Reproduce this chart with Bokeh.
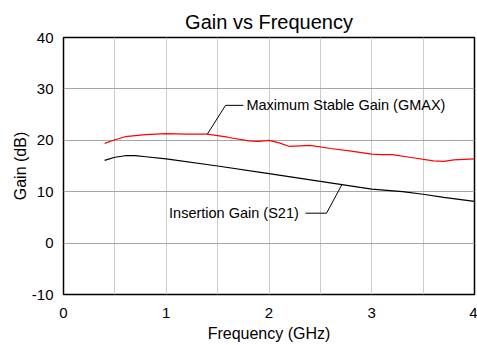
from bokeh.plotting import figure
from bokeh.models import FixedTicker, Range1d, Label
from bokeh.embed import file_html
from bokeh.resources import INLINE

# Data
freq_gmax = [0.4, 0.5, 0.6, 0.8, 1.0, 1.2, 1.4, 1.6, 1.8, 1.9, 2.0, 2.1, 2.2, 2.4,
             2.6, 2.8, 3.0, 3.1, 3.2, 3.4, 3.6, 3.7, 3.8, 4.0]
gmax = [19.4, 20.1, 20.7, 21.1, 21.3, 21.2, 21.2, 20.6, 19.9, 19.8, 20.0, 19.5, 18.8, 19.0,
        18.4, 17.9, 17.3, 17.2, 17.2, 16.6, 16.0, 15.9, 16.2, 16.4]
freq_s21 = [0.4, 0.5, 0.6, 0.7, 0.8, 1.0, 1.5, 2.0, 2.5, 3.0, 3.3, 3.5, 3.7, 3.85, 4.0]
s21 = [16.1, 16.7, 17.0, 17.0, 16.8, 16.4, 15.0, 13.5, 12.0, 10.5, 10.0, 9.5, 8.9, 8.5, 8.1]

x_ticks = [0, 1, 2, 3, 4]
y_ticks = [-10, 0, 10, 20, 30, 40]
y_tick_labels = ["-10", "0", "10", "20", "30", "40"]
x_grid_ticks = [0.5, 1, 1.5, 2, 2.5, 3, 3.5]
y_grid_ticks = [0, 10, 20, 30]

gmax_label = "Maximum Stable Gain (GMAX)"
s21_label = "Insertion Gain (S21)"
gmax_leader_x = [1.40, 1.577, 1.75]
gmax_leader_y = [21.2, 26.8, 26.8]
s21_leader_x = [2.71, 2.56, 2.355]
s21_leader_y = [11.4, 5.82, 5.82]

FONT = "Liberation Sans"

p = figure(width=477, height=345, output_backend="svg", toolbar_location=None,
           x_range=Range1d(0, 4), y_range=Range1d(-10, 40),
           min_border_left=63, min_border_right=3, min_border_top=37, min_border_bottom=51)

p.title.text = "Gain vs Frequency"
p.title.align = "center"
p.title.text_font = FONT
p.title.text_font_size = "20px"
p.title.text_font_style = "normal"
p.title.text_color = "black"
p.title.standoff = 10

p.background_fill_color = "white"
p.border_fill_color = "white"
p.outline_line_color = "black"
p.outline_line_width = 1.5

for ax in (p.xaxis[0], p.yaxis[0]):
    ax.major_tick_line_color = None
    ax.minor_tick_line_color = None
    ax.major_tick_out = 0
    ax.major_tick_in = 0
    ax.minor_tick_out = 0
    ax.minor_tick_in = 0
    ax.axis_line_color = None
    ax.major_label_text_font = FONT
    ax.major_label_text_font_size = "15px"
    ax.major_label_text_color = "black"
    ax.axis_label_text_font = FONT
    ax.axis_label_text_font_size = "16px"
    ax.axis_label_text_font_style = "normal"
    ax.axis_label_text_color = "black"

p.xaxis.ticker = FixedTicker(ticks=x_ticks)
p.yaxis.ticker = FixedTicker(ticks=y_ticks)
p.yaxis.major_label_overrides = {t: s for t, s in zip(y_ticks, y_tick_labels)}
p.xaxis.axis_label = "Frequency (GHz)"
p.yaxis.axis_label = "Gain (dB)"
p.xaxis.major_label_standoff = 13
p.yaxis.major_label_standoff = 10
p.xaxis.axis_label_standoff = 4
p.yaxis.axis_label_standoff = 0

p.xgrid.ticker = FixedTicker(ticks=x_grid_ticks)
p.xgrid.grid_line_color = "#cccccc"
p.ygrid.ticker = FixedTicker(ticks=y_grid_ticks)
p.ygrid.grid_line_color = "#a6a6a6"

p.line(freq_gmax, gmax, line_color="#ff0000", line_width=1.2)
p.line(freq_s21, s21, line_color="black", line_width=1.2)

p.line(gmax_leader_x, gmax_leader_y, line_color="black", line_width=1)
p.line(s21_leader_x, s21_leader_y, line_color="black", line_width=1)

p.add_layout(Label(x=1.78, y=26.8, text=gmax_label, text_font=FONT, text_font_size="14.5px",
                   text_baseline="middle", text_align="left", text_color="black"))
p.add_layout(Label(x=2.29, y=5.82, text=s21_label, text_font=FONT, text_font_size="14.5px",
                   text_baseline="middle", text_align="right", text_color="black"))

open("out.html", "w").write(file_html(p, INLINE))
